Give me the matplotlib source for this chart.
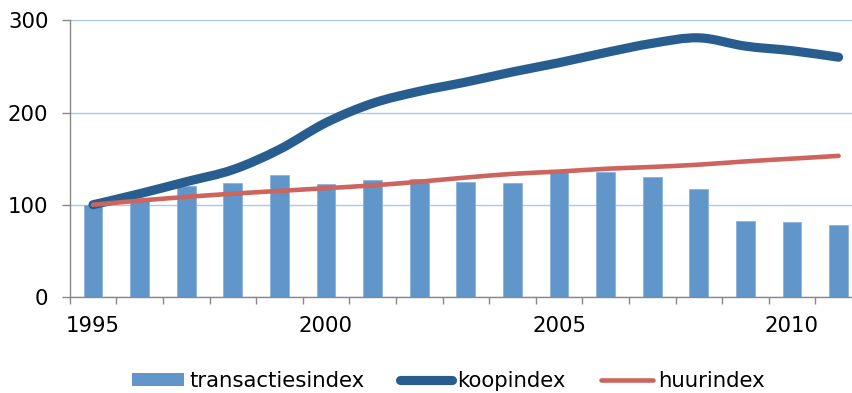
import matplotlib
matplotlib.use("Agg")
import matplotlib.pyplot as plt
from matplotlib.path import Path
from matplotlib.patches import PathPatch, Patch
from matplotlib.lines import Line2D
import numpy as np

# --- data -----------------------------------------------------------------
years = list(range(1995, 2012))
transactiesindex = [100, 106, 120, 124, 132, 122, 127, 128, 125, 124, 135, 135, 130, 117, 82, 81, 78]
koopindex = [100, 112, 125, 138, 160, 189, 210, 223, 233, 244, 254, 265, 275, 281, 272, 267, 260]
huurindex = [100, 104.5, 108.5, 112, 115, 118, 121, 125, 129.5, 133.5, 136, 139, 141, 143.5, 147, 150, 153]
tick_years = [1995, 2000, 2005, 2010]
series_names = ["transactiesindex", "koopindex", "huurindex"]

# --- styling ----------------------------------------------------------------
BAR_COLOR = "#6096C9"
KOOP_COLOR = "#285E8F"
HUUR_COLOR = "#CD645E"
GRID_COLOR = "#A9C8EF"
AXIS_COLOR = "#888888"
FONT_SIZE = 15.3

plt.rcParams["font.family"] = ["DejaVu Sans"]


def smooth_path(xs, ys):
    """Cubic Bezier path through the points (Catmull-Rom style tangents)."""
    pts = np.column_stack([xs, ys]).astype(float)
    n = len(pts)
    verts = [pts[0]]
    codes = [Path.MOVETO]
    for i in range(n - 1):
        p0 = pts[i - 1] if i > 0 else pts[i]
        p1 = pts[i]
        p2 = pts[i + 1]
        p3 = pts[i + 2] if i + 2 < n else pts[i + 1]
        c1 = p1 + (p2 - p0) / 6.0
        c2 = p2 - (p3 - p1) / 6.0
        verts.extend([c1, c2, p2])
        codes.extend([Path.CURVE4] * 3)
    return Path(verts, codes)


W, H = 852, 393
fig = plt.figure(figsize=(W / 100, H / 100), dpi=100)

# plot area in pixels: left edge, bottom (axis at y=0), top (y=300)
left_px, x0_px, top_px = 69.7, 297.0, 20.3
cat_w = 46.6
n = len(years)
ax = fig.add_axes([left_px / W, (H - x0_px) / H,
                   n * cat_w / W, (x0_px - top_px) / H])

x = np.arange(n)
ax.bar(x, transactiesindex, width=0.4, color=BAR_COLOR,
       edgecolor="#8DB2DC", linewidth=0.6, zorder=2)

koop_patch = PathPatch(smooth_path(x, koopindex), facecolor="none",
                       edgecolor=KOOP_COLOR, linewidth=6.6,
                       capstyle="round", joinstyle="round", zorder=3)
huur_patch = PathPatch(smooth_path(x, huurindex), facecolor="none",
                       edgecolor=HUUR_COLOR, linewidth=3.3,
                       capstyle="round", joinstyle="round", zorder=4)
ax.add_patch(koop_patch)
ax.add_patch(huur_patch)

ax.set_xlim(-0.5, n - 0.5)
ax.set_ylim(0, 300)

# y axis
ax.set_yticks([0, 100, 200, 300])
ax.tick_params(axis="y", direction="out", length=5.8, width=1.0,
               color=AXIS_COLOR, labelsize=FONT_SIZE, pad=9.5)
ax.yaxis.grid(True, color=GRID_COLOR, linewidth=1.0, zorder=0)
ax.set_axisbelow(True)

# x axis: labels at category centers, tick marks at category boundaries
ax.set_xticks([years.index(y) for y in tick_years])
ax.set_xticklabels([str(y) for y in tick_years])
ax.set_xticks(np.arange(n + 1) - 0.5, minor=True)
ax.tick_params(axis="x", which="major", length=0, labelsize=FONT_SIZE, pad=14)
ax.tick_params(axis="x", which="minor", direction="out", length=5.2,
               width=1.0, color=AXIS_COLOR)

for side in ("top", "right"):
    ax.spines[side].set_visible(False)
for side in ("left", "bottom"):
    ax.spines[side].set_color(AXIS_COLOR)
    ax.spines[side].set_linewidth(1.0)

# legend below the plot
handles = [
    Patch(facecolor=BAR_COLOR, edgecolor="none"),
    Line2D([], [], color=KOOP_COLOR, linewidth=6.6, solid_capstyle="round"),
    Line2D([], [], color=HUUR_COLOR, linewidth=3.3, solid_capstyle="round"),
]
fig.legend(handles, series_names, loc="center", ncol=3,
           bbox_to_anchor=(448.5 / W, 1 - 381 / H), frameon=False,
           fontsize=FONT_SIZE, handlelength=2.45, handleheight=0.55,
           handletextpad=0.25, columnspacing=1.65, borderpad=0, borderaxespad=0)

fig.savefig("out.png", dpi=100)
